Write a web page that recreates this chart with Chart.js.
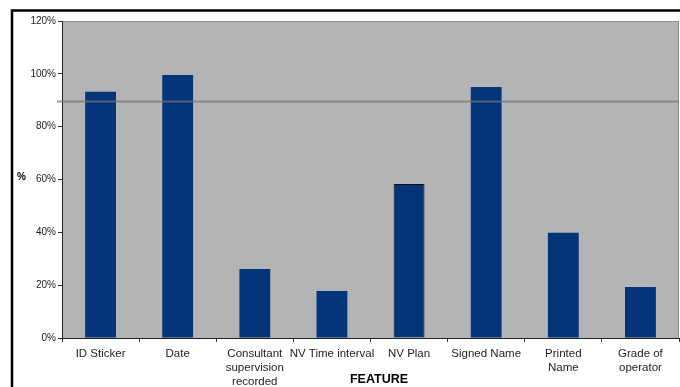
<!DOCTYPE html>
<html>
<head>
<meta charset="utf-8">
<script src="https://cdn.jsdelivr.net/npm/chart.js@4/dist/chart.umd.min.js"></script>
<style>
  html, body { margin: 0; padding: 0; background: #fff; }
  #wrap { width: 680px; height: 387px; }
</style>
</head>
<body>
<div id="wrap"><canvas id="chartCanvas" width="680" height="387"></canvas></div>
<script>
// --- data ---
const features = [
  "ID Sticker",
  "Date",
  ["Consultant", "supervision", "recorded"],
  "NV Time interval",
  "NV Plan",
  "Signed Name",
  ["Printed", "Name"],
  ["Grade of", "operator"]
];
const percentages = [93.2, 99.6, 26.1, 17.8, 58.3, 95.0, 39.8, 19.3];
const targetLine = 89.5;
const yTicks = [0, 20, 40, 60, 80, 100, 120];

const BAR_COLOR = "#04357a";
const PLOT_BG = "#b3b4b6";

// grey plot area, outer frame, target line and axis titles
const decorations = {
  id: "decorations",
  beforeDraw(chart) {
    const { ctx, chartArea: a } = chart;
    ctx.save();
    ctx.fillStyle = PLOT_BG;
    ctx.fillRect(a.left, a.top, a.right - a.left, a.bottom - a.top);
    ctx.strokeStyle = "#8e8e90";
    ctx.lineWidth = 1;
    ctx.beginPath();
    ctx.moveTo(a.left, a.top + 0.5);
    ctx.lineTo(a.right - 0.5, a.top + 0.5);
    ctx.lineTo(a.right - 0.5, a.bottom);
    ctx.stroke();

    // outer frame
    ctx.strokeStyle = "#000";
    ctx.lineWidth = 2.5;
    ctx.beginPath();
    ctx.moveTo(12, 400);
    ctx.lineTo(12, 10.5);
    ctx.lineTo(700, 10.5);
    ctx.stroke();
    ctx.restore();
  },
  afterDatasetsDraw(chart) {
    const { ctx, chartArea: a, scales } = chart;
    const y = scales.y.getPixelForValue(targetLine);
    ctx.save();
    ctx.strokeStyle = "rgba(118,118,118,0.72)";
    ctx.lineWidth = 2;
    ctx.beginPath();
    ctx.moveTo(a.left - 5, y);
    ctx.lineTo(a.right, y);
    ctx.stroke();
    ctx.restore();
  },
  afterDraw(chart) {
    const { ctx } = chart;
    ctx.save();
    ctx.fillStyle = "#000";
    ctx.font = "bold 10px 'Liberation Sans', Arial, sans-serif";
    ctx.textAlign = "left";
    ctx.textBaseline = "middle";
    ctx.fillText("%", 17, 177);
    ctx.font = "bold 12.5px 'Liberation Sans', Arial, sans-serif";
    ctx.textAlign = "center";
    ctx.fillText("FEATURE", 379, 380);
    ctx.restore();
  }
};

const canvas = document.getElementById("chartCanvas");
new Chart(canvas, {
  type: "bar",
  data: {
    labels: features,
    datasets: [{
      data: percentages,
      backgroundColor: BAR_COLOR,
      borderColor: "#111",
      borderWidth: [0, 0, 0, 0, 1, 0, 0, 0],
      barPercentage: 0.8,
      categoryPercentage: 0.5
    }]
  },
  options: {
    responsive: false,
    animation: false,
    layout: { padding: { left: 0, top: 21, right: 1, bottom: 0 } },
    plugins: {
      legend: { display: false },
      tooltip: { enabled: false }
    },
    scales: {
      x: {
        offset: true,
        grid: { drawOnChartArea: false, drawTicks: true, tickLength: 4, color: "#333", offset: true },
        border: { color: "#222", width: 1 },
        ticks: {
          color: "#222",
          maxRotation: 0,
          autoSkip: false,
          padding: 5,
          font: { family: "'Liberation Sans', Arial, sans-serif", size: 11.5, lineHeight: 1.2 }
        },
        afterFit(scale) { scale.height = 49; }
      },
      y: {
        min: 0,
        max: 120,
        afterBuildTicks(scale) { scale.ticks = yTicks.map(v => ({ value: v })); },
        grid: { drawOnChartArea: false, drawTicks: true, tickLength: 4, color: "#333" },
        border: { color: "#222", width: 1 },
        ticks: {
          color: "#222",
          padding: 2,
          font: { family: "'Liberation Sans', Arial, sans-serif", size: 10 },
          callback: v => v + "%"
        },
        afterFit(scale) { scale.width = 62; }
      }
    }
  },
  plugins: [decorations]
});
</script>
</body>
</html>
